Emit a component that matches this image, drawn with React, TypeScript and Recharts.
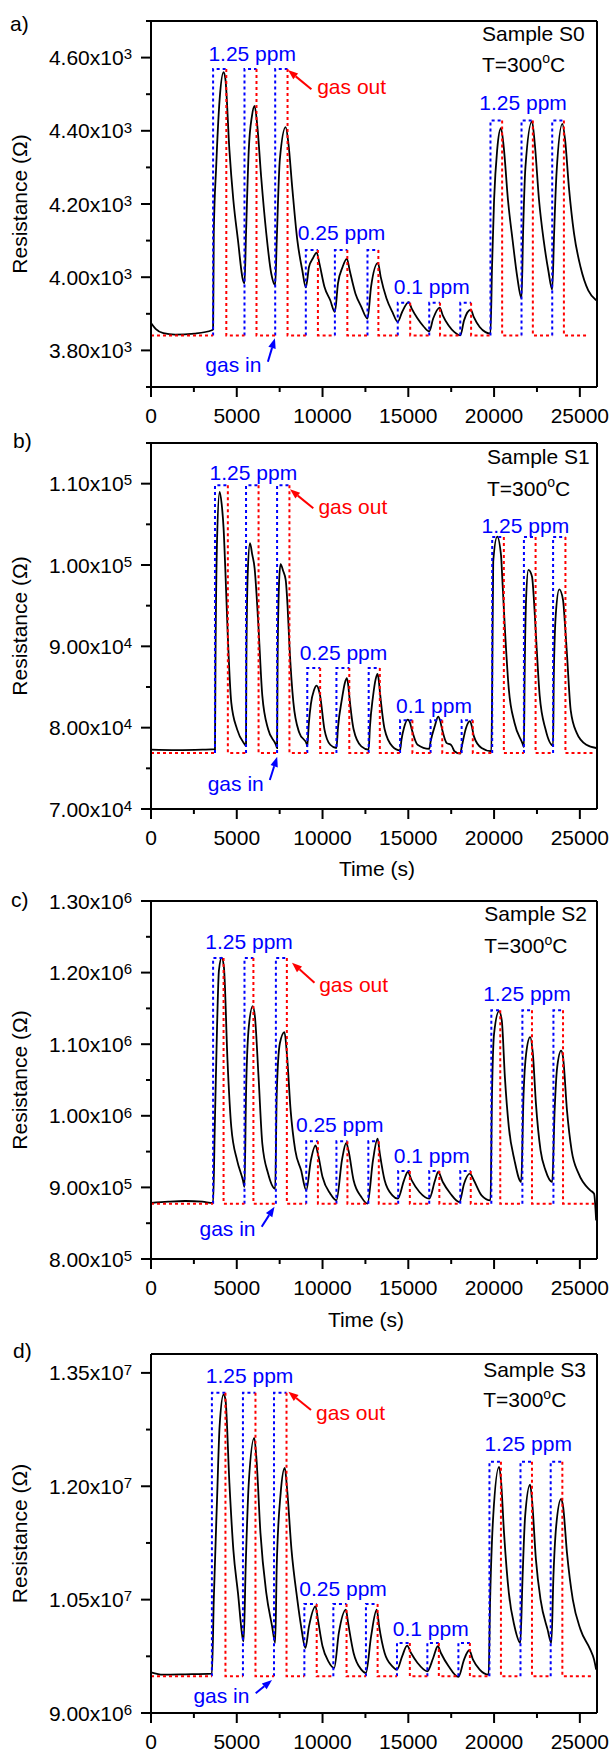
import React from 'react';
import { LineChart, Line, XAxis, YAxis } from 'recharts';

const FONT = '"Liberation Sans", Arial, Helvetica, sans-serif';
const BLUE = '#0000ff';
const RED = '#ff0000';
const W = 609;
const PLOT_L = 151;
const PLOT_R = 597;
const X_MAX = 26000;
const Y_AXIS_W = 60;
const X_AXIS_H = 30;

// time axis, same for all four panels
const X_TICKS = [0, 5000, 10000, 15000, 20000, 25000];
const X_MINOR = [2500, 7500, 12500, 17500, 22500];

const PPM_LABELS = ['1.25 ppm', '0.25 ppm', '0.1 ppm', '1.25 ppm'];

// ---------- Sample S0 ----------
const S0_Y_TICKS = [3800, 4000, 4200, 4400, 4600];
const S0_Y_MINOR = [3700, 3900, 4100, 4300, 4500, 4700];
const S0_IN = [3620, 5450, 7240, 9025, 10720, 12620, 14385, 16220, 18030, 19790, 21600, 23390];
const S0_OUT = [4390, 6150, 7960, 9730, 11445, 13255, 15110, 16850, 18660, 20470, 22260, 24070];
const S0_BASE = 3841;
const S0_TOPS = [4569, 4074, 3930, 4428];
const S0_END = 25490;
const S0_CURVE: [number, number][] = [
  [0, 3875], [270, 3859], [720, 3847], [1400, 3843], [2530, 3846], [3550, 3855], [3620, 3857],
  [3660, 4120], [3800, 4302], [4000, 4485], [4230, 4560], [4340, 4540], [4570, 4348], [4800, 4211], [5070, 4101], [5360, 3992], [5450, 3983],
  [5540, 4120], [5700, 4348], [5880, 4439], [6040, 4468], [6200, 4412], [6420, 4275], [6720, 4120], [7010, 4010], [7240, 3978],
  [7330, 4101], [7510, 4321], [7850, 4410], [8010, 4366], [8230, 4247], [8530, 4101], [8820, 4019], [9025, 3972],
  [9210, 4028], [9430, 4051], [9660, 4067], [9820, 4037], [10110, 3974], [10450, 3937], [10720, 3905],
  [10900, 3983], [11170, 4028], [11420, 4051], [11580, 4019], [11920, 3955], [12260, 3919], [12620, 3887],
  [12830, 3974], [13230, 4039], [13390, 4001], [13730, 3942], [14070, 3905], [14385, 3878],
  [14640, 3905], [15020, 3932], [15200, 3914], [15540, 3887], [15880, 3866], [16220, 3852],
  [16450, 3887], [16830, 3917], [17010, 3896], [17350, 3868], [17690, 3850], [18030, 3841],
  [18250, 3882], [18640, 3911], [18820, 3891], [19160, 3864], [19500, 3850], [19790, 3846],
  [19880, 4028], [20000, 4211], [20180, 4348], [20400, 4407], [20560, 4357], [20810, 4211], [21080, 4101], [21350, 4001], [21600, 3942],
  [21690, 4120], [21830, 4302], [22210, 4426], [22370, 4366], [22620, 4211], [22890, 4101], [23160, 4019], [23390, 3966],
  [23500, 4120], [23640, 4284], [23980, 4419], [24140, 4375], [24360, 4247], [24660, 4120], [25040, 4028], [25490, 3964], [25950, 3937],
];

// ---------- Sample S1 ----------
const S1_Y_TICKS = [70000, 80000, 90000, 100000, 110000];
const S1_Y_MINOR = [75000, 85000, 95000, 105000, 115000];
const S1_IN = [3730, 5540, 7350, 9110, 10810, 12690, 14520, 16300, 18110, 19890, 21740, 23440];
const S1_OUT = [4480, 6270, 8070, 9860, 11560, 13340, 15240, 16980, 18760, 20570, 22420, 24160];
const S1_BASE = 76900;
const S1_TOPS = [109800, 87350, 80900, 103450];
const S1_END = 25830;
const S1_CURVE: [number, number][] = [
  [0, 77300], [1500, 77250], [3000, 77300], [3730, 77350], [3760, 88000], [3850, 103000], [4000, 109000], [4120, 107500], [4230, 104570], [4350, 98500], [4460, 92180], [4680, 83090], [5020, 79790], [5470, 77930], [5540, 77720],
  [5560, 88000], [5640, 99000], [5770, 102700], [5900, 101300], [6040, 99600], [6150, 96500], [6270, 92200], [6490, 83900], [6830, 79800], [7280, 77900], [7350, 77500],
  [7380, 88000], [7460, 97500], [7550, 100100], [7700, 99300], [7850, 98200], [7960, 95000], [8070, 90100], [8300, 83100], [8640, 79400], [9090, 77900], [9110, 77700],
  [9200, 80500], [9320, 82900], [9500, 84600], [9660, 85160], [9760, 84800], [9860, 83900], [10110, 79800], [10450, 77900], [10810, 77500],
  [10900, 80000], [11130, 83500], [11300, 85500], [11420, 86100], [11500, 85200], [11560, 83900], [11810, 79800], [12260, 77700], [12690, 77300],
  [12760, 80000], [12940, 83800], [13100, 86000], [13210, 86600], [13280, 85800], [13340, 84500], [13620, 79800], [14070, 77700], [14520, 77200],
  [14600, 78500], [14750, 80000], [14970, 81000], [15100, 80600], [15200, 79800], [15540, 77900], [16220, 77400], [16300, 78300],
  [16560, 80300], [16740, 81360], [16850, 80900], [16970, 79800], [17240, 78100], [17460, 77930], [17550, 77700], [17690, 77100], [18030, 76800], [18110, 77600],
  [18370, 80000], [18590, 80800], [18700, 80200], [18820, 78960], [19270, 77500], [19840, 77100], [19890, 85000],
  [19950, 100400], [20180, 103500], [20400, 101300], [20500, 97500], [20630, 92200], [20860, 84700], [21190, 80600], [21650, 78100], [21740, 77600],
  [21780, 86000], [21870, 96000], [22000, 99400], [22210, 98600], [22330, 95500], [22440, 91400], [22660, 83900], [23000, 79800], [23440, 77800],
  [23480, 86000], [23600, 94000], [23800, 97000], [24020, 95700], [24140, 92500], [24250, 89000], [24470, 82100], [24810, 79400], [25380, 77900], [25950, 77500],
];

// ---------- Sample S2 ----------
const S2_Y_TICKS = [800000, 900000, 1000000, 1100000, 1200000, 1300000];
const S2_Y_MINOR = [850000, 950000, 1050000, 1150000, 1250000];
const S2_IN = [3620, 5450, 7280, 9050, 10810, 12670, 14410, 16220, 18030, 19840, 21650, 23460];
const S2_OUT = [4230, 5970, 7920, 9730, 11450, 13280, 15090, 16810, 18640, 20360, 22210, 24020];
const S2_BASE = 877300;
const S2_TOPS = [1220400, 964300, 922900, 1147300];
const S2_END = 25830;
const S2_CURVE: [number, number][] = [
  [0, 878200], [1000, 880000], [2000, 881000], [3000, 880000], [3620, 878200],
  [3710, 975000], [3850, 1124000], [3960, 1203000], [4120, 1220800], [4250, 1207800], [4460, 1077000], [4680, 984300], [5020, 937800], [5360, 909900], [5450, 900500],
  [5540, 1031000], [5700, 1124000], [5930, 1153300], [6060, 1138000], [6270, 1054000], [6490, 961000], [6830, 919200], [7240, 898200],
  [7330, 1031000], [7510, 1101000], [7780, 1117000], [7920, 1087000], [8140, 1007600], [8410, 951800], [8750, 923800], [9050, 895900],
  [9320, 937800], [9590, 958700], [9730, 947100], [10000, 914500], [10450, 891200], [10810, 881900],
  [11130, 937800], [11380, 962000], [11510, 951800], [11810, 909900], [12260, 886600], [12620, 877300],
  [12940, 937800], [13210, 968000], [13340, 947100], [13620, 909900], [14070, 888900], [14390, 884300],
  [14750, 909900], [14970, 921500], [15200, 909900], [15650, 893600], [16220, 884300],
  [16560, 909900], [16740, 921500], [17010, 907500], [17460, 891200], [17980, 879600],
  [18250, 905200], [18590, 919200], [18820, 909900], [19270, 888900], [19790, 881900],
  [19880, 1031000], [20000, 1114700], [20290, 1146300], [20450, 1133000], [20630, 1054000], [20860, 984300], [21190, 937800], [21580, 907500],
  [21720, 1031000], [21870, 1087000], [22100, 1110000], [22260, 1087000], [22440, 1017000], [22710, 951800], [23000, 923800], [23390, 907500],
  [23530, 1007600], [23680, 1068000], [23910, 1091000], [24020, 1082000], [24250, 1007600], [24520, 951800], [24930, 919200], [25610, 895900], [25830, 891200], [25950, 854000],
];

// ---------- Sample S3 ----------
const S3_Y_TICKS = [9000000, 10500000, 12000000, 13500000];
const S3_Y_MINOR = [9750000, 11250000, 12750000];
const S3_IN = [3550, 5360, 7170, 8940, 10630, 12530, 14340, 16110, 17920, 19730, 21540, 23300];
const S3_OUT = [4340, 6090, 7900, 9660, 11400, 13210, 15090, 16780, 18590, 20400, 22210, 23980];
const S3_BASE = 9485000;
const S3_TOPS = [13236000, 10443000, 9927000, 12323000];
const S3_END = 25720;
const S3_CURVE: [number, number][] = [
  [0, 9538000], [700, 9507000], [2000, 9512000], [3550, 9521000],
  [3660, 10500000], [3850, 11824000], [4000, 12795000], [4230, 13214000], [4340, 13148000], [4570, 12045000], [4800, 11162000], [5070, 10589000], [5360, 9971000], [5400, 9949000],
  [5520, 10942000], [5700, 12045000], [6020, 12640000], [6150, 12354000], [6380, 11383000], [6720, 10589000], [7060, 10147000], [7240, 9927000],
  [7330, 10942000], [7560, 11913000], [7800, 12244000], [7920, 12000000], [8190, 11162000], [8530, 10500000], [8750, 10147000], [9000, 9860000],
  [9210, 10147000], [9590, 10412000], [9730, 10236000], [10000, 9883000], [10340, 9684000], [10680, 9596000],
  [10950, 10059000], [11360, 10368000], [11490, 10192000], [11810, 9794000], [12260, 9574000], [12530, 9530000],
  [12830, 10015000], [13160, 10368000], [13300, 10147000], [13620, 9794000], [14070, 9618000], [14340, 9574000],
  [14640, 9750000], [14930, 9891000], [15160, 9794000], [15540, 9662000], [16110, 9552000],
  [16450, 9728000], [16720, 9883000], [16900, 9794000], [17350, 9618000], [17920, 9477000],
  [18250, 9706000], [18550, 9830000], [18770, 9706000], [19160, 9574000], [19680, 9507000],
  [19770, 10500000], [19950, 11604000], [20290, 12257000], [20400, 12089000], [20580, 11383000], [20860, 10589000], [21190, 10147000], [21530, 9927000],
  [21650, 10721000], [21810, 11604000], [22100, 12023000], [22210, 11824000], [22440, 11030000], [22710, 10500000], [23120, 10103000], [23340, 9927000],
  [23460, 10809000], [23620, 11471000], [23910, 11833000], [24020, 11736000], [24250, 11118000], [24590, 10500000], [25040, 10103000], [25610, 9838000], [25830, 9706000], [25950, 9574000],
];

type Pt = { t: number; v: number | null };

// blue: rise at gas in + plateau; red: fall at gas out + baseline
function gasInPath(tin: number[], tout: number[], base: number, tops: number[]): Pt[] {
  const pts: Pt[] = [];
  tin.forEach((t, i) => {
    const top = tops[Math.floor(i / 3)];
    pts.push({ t, v: base }, { t, v: top }, { t: tout[i], v: top }, { t: tout[i], v: null });
  });
  return pts;
}

function gasOutPath(tin: number[], tout: number[], base: number, tops: number[], end: number): Pt[] {
  const pts: Pt[] = [{ t: 0, v: base }, { t: tin[0], v: base }, { t: tin[0], v: null }];
  tout.forEach((t, i) => {
    const top = tops[Math.floor(i / 3)];
    const next = i + 1 < tin.length ? tin[i + 1] : end;
    pts.push({ t, v: top }, { t, v: base }, { t: next, v: base }, { t: next, v: null });
  });
  return pts;
}

// y tick: own tick line (10 major / 5 minor) + "m.mmx10^e" label on majors
const makeYTick = (majors: number[]) => (props: any) => {
  const { x, y, payload } = props;
  const v = payload.value as number;
  const major = majors.includes(v);
  if (!major) {
    return <line x1={x - 5} y1={y} x2={x} y2={y} stroke="#000" strokeWidth={2} />;
  }
  const e = Math.floor(Math.log10(v) + 1e-9);
  const m = (v / Math.pow(10, e)).toFixed(2);
  return (
    <g>
      <line x1={x - 10} y1={y} x2={x} y2={y} stroke="#000" strokeWidth={2} />
      <text x={x - 19} y={y + 7.5} textAnchor="end" fontFamily={FONT} fontSize={21} fill="#000">
        {m}x10<tspan fontSize={15} dy={-5.7}>{e}</tspan>
      </text>
    </g>
  );
};

const renderXTick = (props: any) => {
  const { x, y, payload } = props;
  const v = payload.value as number;
  if (!X_TICKS.includes(v)) {
    return <line x1={x} y1={y} x2={x} y2={y + 5} stroke="#000" strokeWidth={2} />;
  }
  return (
    <g>
      <line x1={x} y1={y} x2={x} y2={y + 10} stroke="#000" strokeWidth={2} />
      <text x={x} y={y + 21} dy="0.71em" textAnchor="middle" fontFamily={FONT} fontSize={21} fill="#000">
        {v}
      </text>
    </g>
  );
};

const AXIS = { stroke: '#000', strokeWidth: 2 };
const ALL_X_TICKS = [...X_TICKS, ...X_MINOR].sort((a, b) => a - b);

type XY = [number, number];
type Layout = {
  top: number; height: number; plotTop: number; plotBottom: number;
  letter: string; letterXY: XY; sample: string; sampleXY: XY; tempXY: XY;
  ppmXY: XY[]; gasOutXY: XY; gasInXY: XY;
  outArrow: [number, number, number, number]; inArrow: [number, number, number, number];
  timeXY?: XY;
};

type Series = {
  curve: [number, number][]; tin: number[]; tout: number[]; base: number; tops: number[]; end: number;
  domain: [number, number]; ticks: number[]; minor: number[];
};

function Arrow({ a, color, y0 }: { a: [number, number, number, number]; color: string; y0: number }) {
  const [x1, y1r, x2, y2r] = a;
  const y1 = y1r - y0;
  const y2 = y2r - y0;
  const ang = Math.atan2(y2 - y1, x2 - x1);
  const L = 10;
  const H = 3.8;
  const bx = x2 - L * Math.cos(ang);
  const by = y2 - L * Math.sin(ang);
  const pts = `${x2},${y2} ${bx + H * Math.sin(ang)},${by - H * Math.cos(ang)} ${bx - H * Math.sin(ang)},${by + H * Math.cos(ang)}`;
  return (
    <g>
      <line x1={x1} y1={y1} x2={bx} y2={by} stroke={color} strokeWidth={2} />
      <polygon points={pts} fill={color} />
    </g>
  );
}

function Panel({ lay, s }: { lay: Layout; s: Series }) {
  const { top, height, plotTop, plotBottom } = lay;
  const mTop = plotTop - top;
  const mBottom = top + height - plotBottom;
  const curve = s.curve.map(([t, v]) => ({ t, v }));
  const blue = gasInPath(s.tin, s.tout, s.base, s.tops);
  const red = gasOutPath(s.tin, s.tout, s.base, s.tops, s.end);
  const yTicks = [...s.ticks, ...s.minor].sort((a, b) => a - b);
  const ly = (y: number) => y - top;
  const cy = (plotTop + plotBottom) / 2 - top;

  return (
    <div style={{ position: 'absolute', left: 0, top, width: W, height }}>
      <LineChart
        width={W}
        height={height}
        margin={{ top: mTop, right: W - PLOT_R, bottom: mBottom - X_AXIS_H, left: PLOT_L - Y_AXIS_W }}
      >
        <XAxis dataKey="t" type="number" domain={[0, X_MAX]} ticks={ALL_X_TICKS} interval={0}
          allowDataOverflow height={X_AXIS_H} tickSize={0} tickMargin={0} tick={renderXTick}
          axisLine={AXIS} tickLine={false} />
        <YAxis type="number" domain={s.domain} ticks={yTicks} interval={0}
          allowDataOverflow width={Y_AXIS_W} tickSize={0} tickMargin={0} tick={makeYTick(s.ticks)}
          axisLine={AXIS} tickLine={false} />
        <Line data={curve} dataKey="v" type="monotone" stroke="#000"
          strokeWidth={1.8} dot={false} activeDot={false} isAnimationActive={false} />
        <Line data={blue} dataKey="v" type="linear" stroke={BLUE}
          strokeWidth={2} strokeDasharray="3 3" dot={false} activeDot={false} isAnimationActive={false} />
        <Line data={red} dataKey="v" type="linear" stroke={RED}
          strokeWidth={2} strokeDasharray="3 3" dot={false} activeDot={false} isAnimationActive={false} />
      </LineChart>
      <svg width={W} height={height} fontFamily={FONT} fontSize={21}
        style={{ position: 'absolute', left: 0, top: 0, pointerEvents: 'none' }}>
        <line x1={PLOT_L} y1={mTop} x2={PLOT_R} y2={mTop} stroke="#000" strokeWidth={2} />
        <line x1={PLOT_R} y1={mTop} x2={PLOT_R} y2={ly(plotBottom)} stroke="#000" strokeWidth={2} />
        <text x={lay.letterXY[0]} y={ly(lay.letterXY[1])} fill="#000">{lay.letter}</text>
        <text x={26.5} y={cy} transform={`rotate(-90 26.5 ${cy})`} textAnchor="middle" fill="#000">Resistance (Ω)</text>
        <text x={lay.sampleXY[0]} y={ly(lay.sampleXY[1])} fill="#000">{lay.sample}</text>
        <text x={lay.tempXY[0]} y={ly(lay.tempXY[1])} fill="#000">
          T=300<tspan fontSize={14} dy={-8.4}>o</tspan><tspan dy={8.4}>C</tspan>
        </text>
        {lay.ppmXY.map((p, i) => (
          <text key={i} x={p[0]} y={ly(p[1])} fill={BLUE}>{PPM_LABELS[i]}</text>
        ))}
        <text x={lay.gasOutXY[0]} y={ly(lay.gasOutXY[1])} fill={RED}>gas out</text>
        <text x={lay.gasInXY[0]} y={ly(lay.gasInXY[1])} fill={BLUE}>gas in</text>
        <Arrow a={lay.outArrow} color={RED} y0={top} />
        <Arrow a={lay.inArrow} color={BLUE} y0={top} />
        {lay.timeXY && (
          <text x={lay.timeXY[0]} y={ly(lay.timeXY[1])} textAnchor="middle" fill="#000">Time (s)</text>
        )}
      </svg>
    </div>
  );
}

const LAYOUTS: Layout[] = [
  {
    top: 0, height: 430, plotTop: 21, plotBottom: 387, letter: 'a)', letterXY: [10, 31],
    sample: 'Sample S0', sampleXY: [482, 40.7], tempXY: [482, 71.7],
    ppmXY: [[208.4, 60.7], [297.8, 239.8], [393.8, 294.2], [479.3, 110]],
    gasOutXY: [317.2, 94], gasInXY: [205.3, 372],
    outArrow: [311.4, 89.3, 288, 70], inArrow: [267.9, 361.7, 274.9, 338.3],
  },
  {
    top: 430, height: 450, plotTop: 443, plotBottom: 809, letter: 'b)', letterXY: [13, 448],
    sample: 'Sample S1', sampleXY: [487, 464.2], tempXY: [487, 495.5],
    ppmXY: [[209.6, 480.2], [299.7, 660.2], [396.1, 713.2], [481.6, 533.2]],
    gasOutXY: [318.4, 514], gasInXY: [207.7, 791],
    outArrow: [313.3, 508.3, 290, 489.3], inArrow: [269.8, 780, 277.2, 756.7],
    timeXY: [377, 876],
  },
  {
    top: 880, height: 460, plotTop: 901, plotBottom: 1259, letter: 'c)', letterXY: [11, 906.7],
    sample: 'Sample S2', sampleXY: [484.3, 920.8], tempXY: [484.3, 953],
    ppmXY: [[205.3, 948.5], [295.9, 1131.8], [393.8, 1162.5], [483.2, 1000.8]],
    gasOutXY: [319.2, 991.5], gasInXY: [199.5, 1236],
    outArrow: [314.5, 982.7, 292, 962.7], inArrow: [261.7, 1226.7, 274.5, 1206.7],
    timeXY: [366, 1327],
  },
  {
    top: 1340, height: 413, plotTop: 1354, plotBottom: 1713, letter: 'd)', letterXY: [13, 1358.3],
    sample: 'Sample S3', sampleXY: [483.2, 1376.8], tempXY: [483.2, 1407],
    ppmXY: [[205.8, 1382.5], [299.3, 1595.8], [392.8, 1635.8], [484.4, 1450.8]],
    gasOutXY: [316.1, 1420], gasInXY: [193.4, 1703],
    outArrow: [311, 1410, 288.4, 1391.7], inArrow: [255.7, 1693.3, 272, 1680],
  },
];

const SERIES: Series[] = [
  { curve: S0_CURVE, tin: S0_IN, tout: S0_OUT, base: S0_BASE, tops: S0_TOPS, end: S0_END, domain: [3700, 4700], ticks: S0_Y_TICKS, minor: S0_Y_MINOR },
  { curve: S1_CURVE, tin: S1_IN, tout: S1_OUT, base: S1_BASE, tops: S1_TOPS, end: S1_END, domain: [70000, 115000], ticks: S1_Y_TICKS, minor: S1_Y_MINOR },
  { curve: S2_CURVE, tin: S2_IN, tout: S2_OUT, base: S2_BASE, tops: S2_TOPS, end: S2_END, domain: [800000, 1300000], ticks: S2_Y_TICKS, minor: S2_Y_MINOR },
  { curve: S3_CURVE, tin: S3_IN, tout: S3_OUT, base: S3_BASE, tops: S3_TOPS, end: S3_END, domain: [9000000, 13750000], ticks: S3_Y_TICKS, minor: S3_Y_MINOR },
];

export default function App() {
  return (
    <div style={{ position: 'absolute', left: 0, top: 0, width: W, height: 1753, overflow: 'hidden', background: '#fff', fontFamily: FONT }}>
      {LAYOUTS.map((lay, i) => (
        <Panel key={i} lay={lay} s={SERIES[i]} />
      ))}
    </div>
  );
}
